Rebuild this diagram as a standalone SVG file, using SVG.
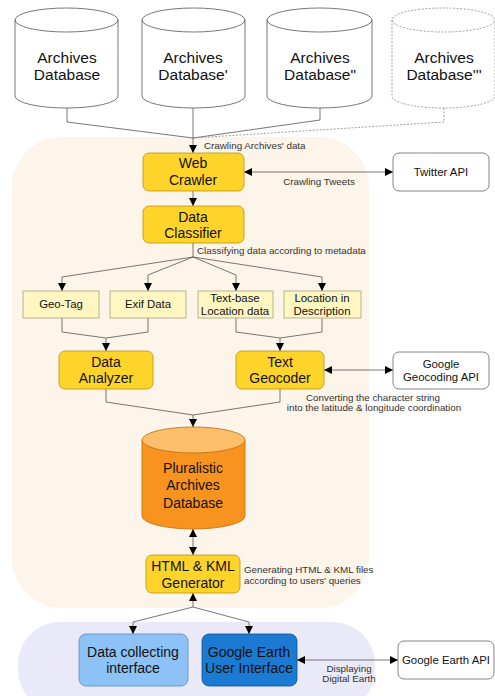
<svg xmlns="http://www.w3.org/2000/svg" width="495" height="696" viewBox="0 0 495 696">
<defs>
<marker id="ah" viewBox="0 0 10 10" refX="10" refY="5" markerWidth="8" markerHeight="8" orient="auto-start-reverse" markerUnits="userSpaceOnUse"><path d="M0,0 L10,5 L0,10 z" fill="#000"/></marker>
</defs>
<style>
text{font-family:"Liberation Sans",Arial,sans-serif;fill:#111;text-anchor:middle}
.big{font-size:15.5px}
.mid{font-size:14px}
.box{font-size:11.4px}
.lbl{font-size:9.8px;fill:#333}
.lbs{font-size:9.8px;fill:#333;text-anchor:start}
.cyl{fill:#fff;stroke:#555;stroke-width:0.8}
.cyld{fill:#fff;stroke:#888;stroke-width:0.8;stroke-dasharray:2,1.5}
.yel{fill:#FFD42A;stroke:#B8920E;stroke-width:0.8}
.ly{fill:#FFF6C2;stroke:#A9A27A;stroke-width:0.8}
.api{fill:#fff;stroke:#666;stroke-width:0.8}
.ln{fill:none;stroke:#555;stroke-width:0.8}
.lnd{fill:none;stroke:#888;stroke-width:0.8;stroke-dasharray:2,1.5}
.ar{fill:none;stroke:#555;stroke-width:0.8;marker-end:url(#ah)}
.ar2{fill:none;stroke:#555;stroke-width:0.8;marker-end:url(#ah);marker-start:url(#ah)}
</style>
<rect x="12" y="137" width="357" height="471" rx="50" fill="#FDF4EA"/>
<rect x="18" y="622" width="357" height="90" rx="42" fill="#E9E9F8"/>
<g id="connectors">
<path class="ln" d="M67,108 V122 L193,138"/>
<path class="ln" d="M320,108 V120 L193,138"/>
<path class="lnd" d="M444,108 V122 L193,138"/>
<path class="ar" d="M193,108 V153"/>
<path class="ar2" d="M244,172 H393"/>
<path class="ar" d="M193,191 V206"/>
<path class="ln" d="M193,243 V257"/>
<path class="ar" d="M193,257 L62,277 V291"/>
<path class="ar" d="M193,257 L148,275 V291"/>
<path class="ar" d="M193,257 L236,275 V291"/>
<path class="ar" d="M193,257 L322,277 V291"/>
<path class="ln" d="M62,318 V332 L106,338"/>
<path class="ar" d="M148,318 V332 L106,338 V351"/>
<path class="ln" d="M236,318 V332 L280,338"/>
<path class="ar" d="M322,318 V332 L280,338 V351"/>
<path class="ar2" d="M324,370 H393"/>
<path class="ln" d="M106,389 V402 L193,415"/>
<path class="ar" d="M280,389 V402 L193,415 V427"/>
<path class="ar2" d="M193,529 V555"/>
<path class="ar" d="M193,607 V593"/>
<path class="ar" d="M193,607 L133,622 V634"/>
<path class="ar" d="M193,607 L249,622 V634"/>
<path class="ar2" d="M297,660 H398"/>
</g>
<g id="db1"><path class="cyl" d="M15,20 V96 A51.5,12 0 0 0 118,96 V20 A51.5,12 0 0 0 15,20 A51.5,12 0 0 0 118,20"/><text class="big" x="67" y="63">Archives</text><text class="big" x="67" y="80">Database</text></g>
<g id="db2"><path class="cyl" d="M142,20 V96 A51.5,12 0 0 0 245,96 V20 A51.5,12 0 0 0 142,20 A51.5,12 0 0 0 245,20"/><text class="big" x="193" y="63">Archives</text><text class="big" x="193" y="80">Database'</text></g>
<g id="db3"><path class="cyl" d="M267,20 V96 A52.5,12 0 0 0 372,96 V20 A52.5,12 0 0 0 267,20 A52.5,12 0 0 0 372,20"/><text class="big" x="320" y="63">Archives</text><text class="big" x="320" y="80">Database"</text></g>
<g id="db4"><path class="cyld" d="M392,20 V96 A51.5,12 0 0 0 495,96 V20 A51.5,12 0 0 0 392,20 A51.5,12 0 0 0 495,20"/><text class="big" x="444" y="63" fill="#333">Archives</text><text class="big" x="444" y="80">Database'''</text></g>
<text class="lbs" x="204" y="149">Crawling Archives' data</text>
<g id="crawler"><rect class="yel" x="143" y="153" width="101" height="38" rx="6"/><text class="mid" x="193" y="168">Web</text><text class="mid" x="193" y="185">Crawler</text></g>
<g id="twitter"><rect class="api" x="393" y="153" width="96" height="38" rx="6"/><text class="box" x="441" y="176">Twitter API</text></g>
<text class="lbl" x="319" y="185">Crawling Tweets</text>
<g id="classifier"><rect class="yel" x="143" y="206" width="101" height="37" rx="6"/><text class="mid" x="193" y="222">Data</text><text class="mid" x="193" y="238">Classifier</text></g>
<text class="lbs" x="197" y="254">Classifying data according to metadata</text>
<g id="geotag"><rect class="ly" x="23" y="291" width="76" height="27"/><text class="box" x="61" y="308">Geo-Tag</text></g>
<g id="exif"><rect class="ly" x="110" y="291" width="76" height="27"/><text class="box" x="148" y="308">Exif Data</text></g>
<g id="textbase"><rect class="ly" x="198" y="291" width="75" height="27"/><text class="box" x="235" y="302">Text-base</text><text class="box" x="235" y="315">Location data</text></g>
<g id="locdesc"><rect class="ly" x="284" y="291" width="77" height="27"/><text class="box" x="322" y="302">Location in</text><text class="box" x="322" y="315">Description</text></g>
<g id="analyzer"><rect class="yel" x="59" y="351" width="94" height="38" rx="6"/><text class="mid" x="106" y="367">Data</text><text class="mid" x="106" y="383">Analyzer</text></g>
<g id="geocoder"><rect class="yel" x="236" y="351" width="88" height="38" rx="6"/><text class="mid" x="280" y="367">Text</text><text class="mid" x="280" y="383">Geocoder</text></g>
<g id="gapi"><rect class="api" x="393" y="352" width="96" height="37" rx="6"/><text class="box" x="441" y="368">Google</text><text class="box" x="441" y="381">Geocoding API</text></g>
<text class="lbl" x="373" y="401">Converting the character string</text>
<text class="lbl" x="374" y="411">into the latitude &amp; longitude coordination</text>
<g id="plural"><path d="M142,440 V516 A51.5,13 0 0 0 245,516 V440 Z" fill="#F7931E" stroke="#B86E10" stroke-width="0.8"/><ellipse cx="193.5" cy="440" rx="51.5" ry="13" fill="#FDBE6A" stroke="#B86E10" stroke-width="0.8"/><text class="mid" x="193" y="473">Pluralistic</text><text class="mid" x="193" y="490">Archives</text><text class="mid" x="193" y="508">Database</text></g>
<g id="generator"><rect class="yel" x="146" y="555" width="94" height="38" rx="6"/><text class="mid" x="193" y="571">HTML &amp; KML</text><text class="mid" x="193" y="588">Generator</text></g>
<text class="lbs" x="244" y="573">Generating HTML &amp; KML files</text>
<text class="lbs" x="244" y="584">according to users' queries</text>
<g id="datacollect"><rect x="79" y="634" width="109" height="52" rx="7" fill="#8CC2F5" stroke="#5B8CBD" stroke-width="0.8"/><text class="mid" x="133" y="657">Data collecting</text><text class="mid" x="133" y="673">interface</text></g>
<g id="gearthui"><rect x="202" y="634" width="95" height="52" rx="7" fill="#1B7BD2" stroke="#0E4F94" stroke-width="0.8"/><text class="mid" x="249" y="657">Google Earth</text><text class="mid" x="249" y="673">User Interface</text></g>
<g id="gearthapi"><rect class="api" x="398" y="641" width="96" height="38" rx="6"/><text class="box" x="446" y="664">Google Earth API</text></g>
<text class="lbl" x="349" y="672">Displaying</text>
<text class="lbl" x="349" y="682">Digital Earth</text>
</svg>
